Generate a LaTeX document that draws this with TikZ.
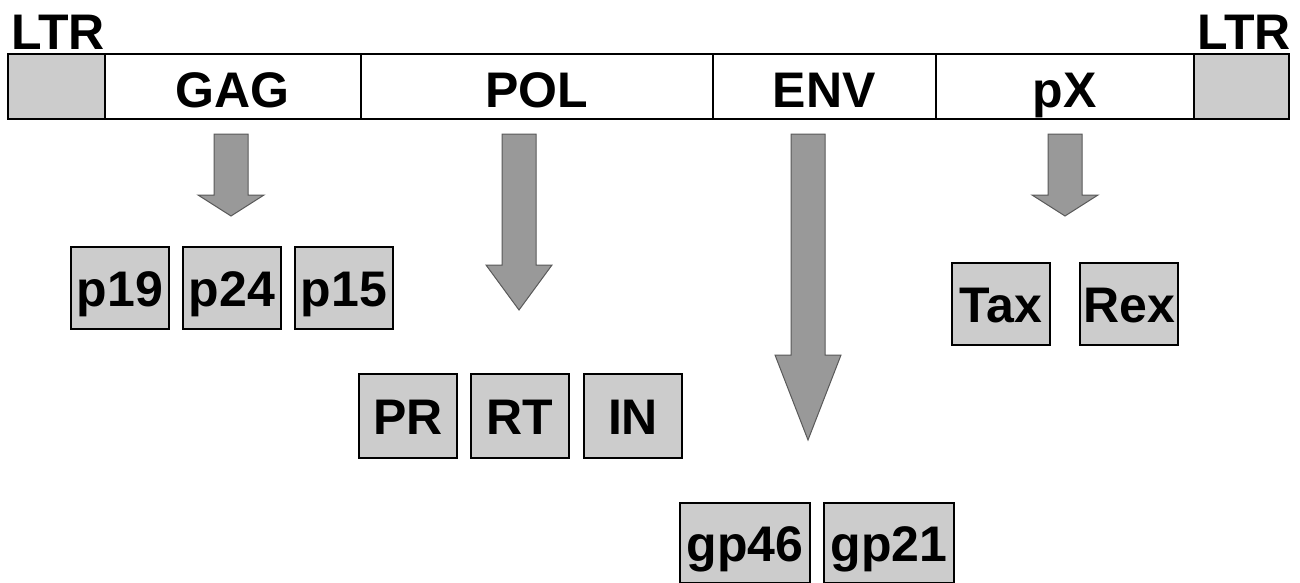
\documentclass[tikz,border=0pt]{standalone}
\usepackage{fontspec}
\setmainfont{Liberation Sans}
\begin{document}
\begin{tikzpicture}[x=1pt,y=-1pt,
  label font/.style={font=\fontsize{50}{50}\selectfont\bfseries,text height=36pt,text depth=0pt},
  seg/.style={draw=black,line width=1.6pt,minimum height=65pt,inner sep=0pt,anchor=north west,
              label font},
  ltrbox/.style={seg,fill=black!20},
  protein/.style={draw=black,line width=2pt,fill=black!20,inner sep=0pt,minimum height=82pt,
                  anchor=north west,label font},
  blockarrow/.style={draw=black!65,line width=1pt,fill=black!40},
  title/.style={font=\fontsize{50}{50}\selectfont\bfseries,inner sep=0pt}]
\useasboundingbox (0,0) rectangle (1300,583);

% genome bar
\node[ltrbox,minimum width=97pt] (ltr1) at (7,53) {};
\node[seg,minimum width=256pt] (gag) at (104,53) {\raisebox{-3pt}{GAG}};
\node[seg,minimum width=352pt] (pol) at (360,53) {\raisebox{-3pt}{POL}};
\node[seg,minimum width=223pt] (env) at (712,53) {\raisebox{-3pt}{ENV}};
\node[seg,minimum width=258pt] (px) at (935,53) {\raisebox{-3pt}{pX}};
\node[ltrbox,minimum width=95pt] (ltr2) at (1193,53) {};
\node[title,anchor=south west] (l1) at (11,50) {LTR};
\node[title,anchor=south east] (l2) at (1291,50) {LTR};

% block arrows: shaft half-width 17, head half-width 33
\draw[blockarrow] (214,134) -- (248,134) -- (248,195) -- (264,195) -- (231,216)
  -- (198,195) -- (214,195) -- cycle;
\draw[blockarrow] (502,134) -- (536,134) -- (536,265) -- (552,265) -- (519,310)
  -- (486,265) -- (502,265) -- cycle;
\draw[blockarrow] (791,134) -- (825,134) -- (825,355) -- (841,355) -- (808,440)
  -- (775,355) -- (791,355) -- cycle;
\draw[blockarrow] (1048,134) -- (1082,134) -- (1082,195) -- (1098,195) -- (1065,216)
  -- (1032,195) -- (1048,195) -- cycle;

% gene products
\node[protein,minimum width=98pt] (p19) at (70,246) {p19};
\node[protein,minimum width=98pt] (p24) at (182,246) {p24};
\node[protein,minimum width=98pt] (p15) at (294,246) {p15};
\node[protein,minimum width=98pt,minimum height=84pt] (pr) at (358,373) {PR};
\node[protein,minimum width=98pt,minimum height=84pt] (rt) at (470,373) {RT};
\node[protein,minimum width=98pt,minimum height=84pt] (in) at (583,373) {IN};
\node[protein,minimum width=130pt,minimum height=80pt] (gp46) at (679,502) {gp46};
\node[protein,minimum width=130pt,minimum height=80pt] (gp21) at (823,502) {gp21};
\node[protein,minimum width=98pt] (tax) at (951,262) {Tax};
\node[protein,minimum width=98pt] (rex) at (1079,262) {Rex};
\end{tikzpicture}
\end{document}
